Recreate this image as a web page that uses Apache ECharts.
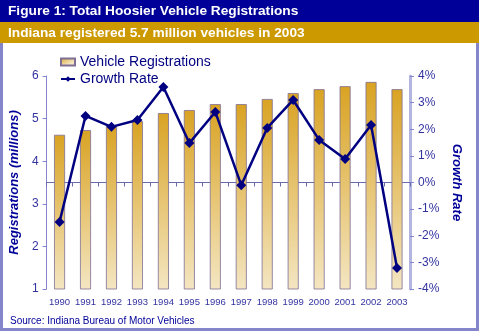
<!DOCTYPE html>
<html><head><meta charset="utf-8">
<script src="https://cdn.jsdelivr.net/npm/echarts@6/dist/echarts.min.js"></script>
<style>html,body{margin:0;padding:0;background:#fff}#c{width:479px;height:331px}</style>
</head><body><div id="c"></div>
<script>
const years = ['1990','1991','1992','1993','1994','1995','1996','1997','1998','1999','2000','2001','2002','2003'];
const registrations = [4.62, 4.73, 4.83, 4.94, 5.13, 5.20, 5.34, 5.34, 5.46, 5.60, 5.69, 5.76, 5.86, 5.69];
const growthRate = [-1.48, 2.50, 2.09, 2.35, 3.59, 1.48, 2.65, -0.10, 2.05, 3.10, 1.60, 0.88, 2.16, -3.21];
const titleText = 'Figure 1: Total Hoosier Vehicle Registrations';
const subtitleText = 'Indiana registered 5.7 million vehicles in 2003';
const sourceText = 'Source: Indiana Bureau of Motor Vehicles';

const chart = echarts.init(document.getElementById('c'), null, {renderer:'canvas'});
const barGrad = new echarts.graphic.LinearGradient(0,0,0.3,1,[{offset:0,color:'#D9A323'},{offset:1,color:'#F4E6C2'}]);
const tickColor = '#3333a0';
chart.setOption({
  animation:false,
  textStyle:{fontFamily:'Liberation Sans, Arial, sans-serif'},
  graphic:[
    {type:'rect',shape:{x:1.5,y:1.5,width:476,height:328},style:{fill:'none',stroke:'#8585cc',lineWidth:3},z:0},
    {type:'rect',shape:{x:0,y:0,width:479,height:22},style:{fill:'#000099'},z:1},
    {type:'rect',shape:{x:0,y:22,width:479,height:21},style:{fill:'#CC9900'},z:1},
    {type:'text',left:8,top:4,style:{text:titleText,fill:'#fff',font:'bold 13.7px Liberation Sans, Arial, sans-serif'},z:2},
    {type:'text',left:8,top:26,style:{text:subtitleText,fill:'#fff',font:'bold 13.7px Liberation Sans, Arial, sans-serif'},z:2},
    {type:'text',left:10,top:316,style:{text:sourceText,fill:'#000099',font:'10px Liberation Sans, Arial, sans-serif'},z:2}
  ],
  legend:{
    orient:'vertical',left:55,top:50,itemGap:3,itemWidth:14,itemHeight:7,
    textStyle:{color:'#000080',fontSize:14},
    data:[{name:'Vehicle Registrations',icon:'rect'},{name:'Growth Rate'}]
  },
  grid:{left:44,right:69,top:76,bottom:42,containLabel:false},
  xAxis:{
    type:'category',data:years,boundaryGap:true,
    axisLine:{lineStyle:{color:'#6a6aae',width:1}},
    axisTick:{show:true,length:4,alignWithLabel:false,lineStyle:{color:'#6a6aae'}},
    axisLabel:{color:tickColor,fontSize:9.5,margin:8,interval:0}
  },
  yAxis:[
    {type:'value',min:1,max:6,interval:1,position:'left',
     name:'Registrations (millions)',nameLocation:'middle',nameGap:19,
     nameTextStyle:{color:'#000099',fontSize:13,fontWeight:'bold',fontStyle:'italic'},
     axisLine:{show:true,lineStyle:{color:'#8585cc',width:1}},
     axisTick:{show:true,length:4,lineStyle:{color:'#8585cc'}},
     axisLabel:{color:tickColor,fontSize:12,margin:8},
     splitLine:{show:false}},
    {type:'value',min:-4,max:4,interval:1,position:'right',
     name:'Growth Rate',nameLocation:'middle',nameGap:37,nameRotate:-90,
     nameTextStyle:{color:'#000099',fontSize:13,fontWeight:'bold',fontStyle:'italic'},
     axisLine:{show:true,lineStyle:{color:'#b4b4e0',width:3}},
     axisTick:{show:true,length:4,lineStyle:{color:'#8585cc'}},
     axisLabel:{color:tickColor,fontSize:12,margin:8,formatter:'{value}%'},
     splitLine:{show:false}}
  ],
  series:[
    {name:'zero',type:'line',yAxisIndex:1,data:[],z:1,silent:true,
     markLine:{silent:true,z:1,symbol:'none',label:{show:false},lineStyle:{color:'#6a6aae',width:1,type:'solid'},data:[{yAxis:0}]}},
    {name:'Vehicle Registrations',type:'bar',yAxisIndex:0,data:registrations,barWidth:11,
     itemStyle:{color:barGrad,borderColor:'#7f6f95',borderWidth:0.8},z:3},
    {name:'Growth Rate',type:'line',yAxisIndex:1,data:growthRate,
     lineStyle:{color:'#000080',width:2.5},itemStyle:{color:'#000080'},
     symbol:'diamond',symbolSize:10,z:4}
  ]
});
</script></body></html>
